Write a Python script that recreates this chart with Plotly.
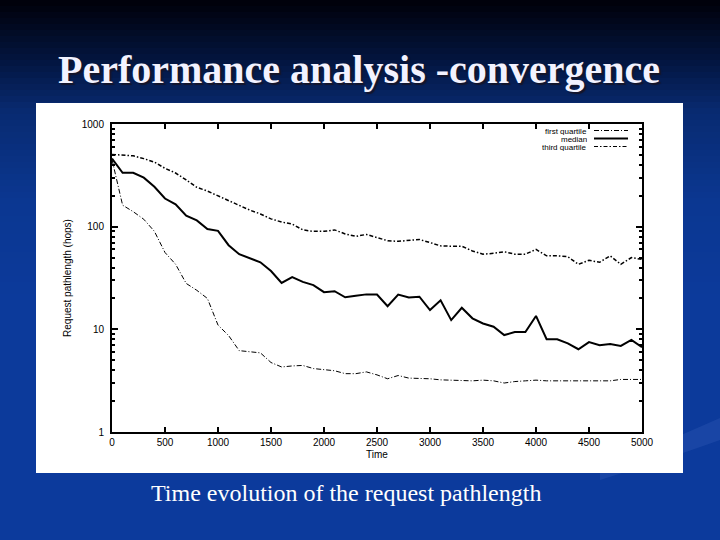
import plotly.graph_objects as go

W, H = 720, 540
L, R, T, B = 112, 642, 124, 432  # plot area in page pixels

time = list(range(0, 5001, 100))
first_quartile = [450, 162, 140, 118, 90, 56, 43, 28, 24, 20,
                  11, 8.7, 6.2, 6.0, 5.9, 4.75, 4.3, 4.4, 4.45, 4.15,
                  4.05, 3.95, 3.7, 3.7, 3.85, 3.6, 3.3, 3.55, 3.35, 3.35,
                  3.3, 3.22, 3.2, 3.2, 3.15, 3.2, 3.15, 3.0, 3.1, 3.15,
                  3.2, 3.15, 3.15, 3.15, 3.15, 3.15, 3.15, 3.15, 3.25, 3.25,
                  3.25]
median = [460, 335, 335, 300, 245, 188, 165, 128, 115, 95,
          91, 66, 54, 49.5, 45, 37, 28.3, 32.3, 29, 27,
          23, 23.5, 20.5, 21.2, 21.9, 21.8, 16.8, 21.8, 20.4, 20.8,
          15.4, 19.2, 12.3, 16.2, 12.8, 11.4, 10.6, 8.8, 9.4, 9.4,
          13.5, 8.0, 8.0, 7.3, 6.4, 7.5, 7.0, 7.2, 6.9, 7.9,
          6.7]
third_quartile = [505, 495, 490, 460, 425, 370, 333, 285, 242, 222,
                  200, 180, 160, 145, 133, 119, 111, 106, 93, 90,
                  90, 93, 85, 80.5, 84, 78, 73, 72, 73, 75,
                  70, 65, 64.5, 64.5, 58, 54, 55, 57, 54, 54,
                  60, 52, 52, 51, 43, 47, 45, 52, 43, 50,
                  48]

x_ticks = list(range(0, 5001, 500))
y_ticks = [1, 10, 100, 1000]
y_labels = ["1", "10", "100", "1000"]
y_minor = [m * d for d in (1, 10, 100) for m in range(2, 10)]

legend_names = ["first quartile", "median", "third quartile"]


def px(x):
    return (x - L) / (R - L)


def py(y):
    return (B - y) / (B - T)


def mix(c0, c1, f):
    return "rgb(%d,%d,%d)" % tuple(round(a + (b - a) * f) for a, b in zip(c0, c1))


# slide background: dark navy fading into blue
stops = [(0, (0, 0, 8)), (60, (3, 21, 63)), (110, (8, 42, 112)),
         (200, (11, 55, 145)), (300, (12, 58, 155)), (540, (12, 58, 156))]


def grad(y):
    for (y0, c0), (y1, c1) in zip(stops, stops[1:]):
        if y <= y1:
            return mix(c0, c1, (y - y0) / (y1 - y0))
    return mix(stops[-1][1], stops[-1][1], 0)


shapes = []
for i in range(0, H, 6):
    shapes.append(dict(type="rect", xref="paper", yref="paper", layer="below",
                       x0=px(0), x1=px(W), y0=py(i + 7), y1=py(i),
                       fillcolor=grad(i + 3), line=dict(width=0)))

# faint swoosh on the right
shapes.append(dict(type="path", xref="paper", yref="paper", layer="below",
                   path="M %f %f Q %f %f %f %f L %f %f Q %f %f %f %f Z" % (
                       px(600), py(470), px(670), py(440), px(720), py(418),
                       px(720), py(440), px(670), py(458), px(600), py(480)),
                   fillcolor="rgba(120,160,230,0.12)", line=dict(width=0)))

# white picture box
shapes.append(dict(type="rect", xref="paper", yref="paper", layer="below",
                   x0=px(36), x1=px(683), y0=py(473), y1=py(103),
                   fillcolor="white", line=dict(width=0)))

q1_dash = "5px,2px,1px,2px"
q3_dash = "4px,2px,1.5px,2px"

fig = go.Figure()
fig.add_trace(go.Scatter(x=time, y=first_quartile, mode="lines", name=legend_names[0],
                         line=dict(color="black", width=1, dash=q1_dash)))
fig.add_trace(go.Scatter(x=time, y=median, mode="lines", name=legend_names[1],
                         line=dict(color="black", width=2)))
fig.add_trace(go.Scatter(x=time, y=third_quartile, mode="lines", name=legend_names[2],
                         line=dict(color="black", width=1.5, dash=q3_dash)))

# legend drawn like the gnuplot key: text right aligned, sample on the right
annotations = []
for name, yy, lw, dash in zip(legend_names, [130.5, 138.5, 146.5],
                              [1, 2, 1.2], [q1_dash, "solid", q3_dash]):
    annotations.append(dict(text=name, xref="paper", yref="paper", x=px(589), y=py(yy),
                            xanchor="right", yanchor="middle", showarrow=False, height=8,
                            font=dict(family="Liberation Sans", size=8, color="black")))
    shapes.append(dict(type="line", xref="paper", yref="paper",
                       x0=px(594), x1=px(628), y0=py(yy), y1=py(yy),
                       line=dict(color="black", width=lw, dash=dash)))

# slide title (with a dark shadow) and caption
title = "Performance analysis -convergence"
annotations.append(dict(text="<b>%s</b>" % title, xref="paper", yref="paper",
                        x=px(359), y=py(69), xanchor="center", yanchor="middle", showarrow=False,
                        font=dict(family="Liberation Serif", size=40, color="#f2f2ff",
                                  shadow="2px 2px 1px #15152a")))
annotations.append(dict(text="Time evolution of the request pathlength", xref="paper", yref="paper",
                        x=px(346), y=py(493), xanchor="center", yanchor="middle", showarrow=False,
                        font=dict(family="Liberation Serif", size=24, color="white")))

tick_font = dict(family="Liberation Sans", size=10, color="black")
fig.update_layout(
    width=W, height=H,
    margin=dict(l=L, r=W - R, t=T, b=H - B, pad=0),
    paper_bgcolor="rgb(12,58,156)",
    plot_bgcolor="white",
    showlegend=False,
    shapes=shapes,
    annotations=annotations,
    xaxis=dict(range=[0, 5000], tickvals=x_ticks, ticks="inside", ticklen=5,
               tickwidth=1.5, tickcolor="black", showline=True, linewidth=2,
               linecolor="black", mirror="allticks", showgrid=False, zeroline=False,
               tickfont=tick_font,
               title=dict(text="Time", font=tick_font, standoff=4)),
    yaxis=dict(type="log", range=[0, 3], tickvals=y_ticks, ticktext=y_labels,
               ticks="inside", ticklen=6, tickwidth=1.5, tickcolor="black",
               showline=True, linewidth=2, linecolor="black", mirror="allticks",
               showgrid=False, zeroline=False, tickfont=tick_font, ticklabelstandoff=4,
               minor=dict(tickvals=y_minor, ticks="inside", ticklen=3, tickwidth=1.5,
                          tickcolor="black", showgrid=False),
               title=dict(text="Request pathlength (hops)", font=tick_font, standoff=8)),
)

fig.write_html("out.html", config={"displayModeBar": False},
               post_script="document.body.style.margin='0';document.body.style.overflow='hidden';")
